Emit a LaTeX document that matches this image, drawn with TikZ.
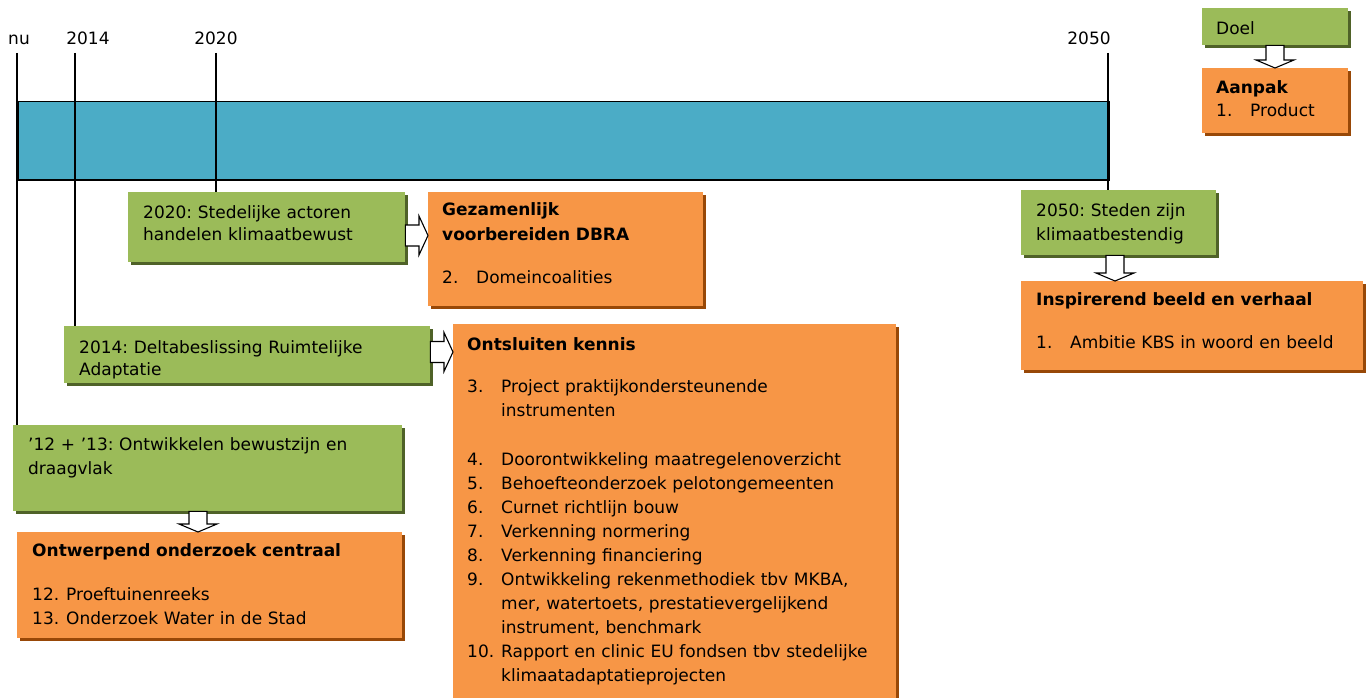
\documentclass[tikz,border=0pt]{standalone}
\usepackage{fontspec}
\setmainfont{DejaVu Sans}
\frenchspacing
\usetikzlibrary{calc,shadows}
\definecolor{kgreen}{HTML}{9BBB59}
\definecolor{kgreendark}{HTML}{4F6228}
\definecolor{korange}{HTML}{F79646}
\definecolor{korangedark}{HTML}{984807}
\definecolor{kblue}{HTML}{4BACC6}
\tikzstyle{tick} = [line width=1.6pt]
\tikzstyle{goal} = [rectangle, anchor=north west, inner sep=0pt, fill=kgreen,
  drop shadow={shadow xshift=3pt, shadow yshift=-3pt, fill=kgreendark, opacity=1}]
\tikzstyle{plan} = [rectangle, anchor=north west, inner sep=0pt, fill=korange,
  drop shadow={shadow xshift=3pt, shadow yshift=-3pt, fill=korangedark, opacity=1}]
\tikzstyle{txt} = [anchor=base west, inner sep=0pt, align=left, font=\fontsize{17}{24}\selectfont]
\tikzstyle{year} = [anchor=base, inner sep=0pt, font=\fontsize{17}{24}\selectfont]
\tikzstyle{blockarrow} = [draw=black, fill=white, line width=1.1pt, line join=miter]
\newcommand{\itm}[1]{\makebox[34pt][l]{#1}}
% right pointing block arrow: from, to, y
\newcommand{\harrow}[3]{%
  \draw[blockarrow] let \p1=(#1.east), \p2=(#2.west), \p3=(0,#3) in
    (\x1,\y3+10.5pt) -- (\x2-9pt,\y3+10.5pt) -- (\x2-9pt,\y3+19.5pt) -- (\x2,\y3)
    -- (\x2-9pt,\y3-19.5pt) -- (\x2-9pt,\y3-10.5pt) -- (\x1,\y3-10.5pt) -- cycle;}
% downward block arrow: from, to, x
\newcommand{\varrow}[3]{%
  \draw[blockarrow] let \p1=(#1.south), \p2=(#2.north), \p3=(#3,0) in
    (\x3-9pt,\y1) -- (\x3-9pt,\y2+8pt) -- (\x3-19pt,\y2+8pt) -- (\x3,\y2)
    -- (\x3+19pt,\y2+8pt) -- (\x3+9pt,\y2+8pt) -- (\x3+9pt,\y1) -- cycle;}

\begin{document}
\begin{tikzpicture}[x=1pt, y=-1pt]
	\useasboundingbox (0,0) rectangle (1370,698);
	\clip (0,0) rectangle (1370,698);

	\node[year] (lnu) at (19,45) {nu};
	\node[year] (l2014) at (88,45) {2014};
	\node[year] (l2020) at (216,45) {2020};
	\node[year] (l2050) at (1089,45) {2050};
	\coordinate (tnu) at (17,53);
	\coordinate (t2014) at (75,53);
	\coordinate (t2020) at (216,53);
	\coordinate (t2050) at (1108,53);

	\node[rectangle, anchor=north west, inner sep=0pt, fill=kblue, draw=black, line width=1.5pt,
	  minimum width=1091, minimum height=78] (bar) at (17,101) {};

	\node[goal, minimum width=277, minimum height=70] (g2020) at (128,192) {};
	\node[plan, minimum width=275, minimum height=114] (o2020) at (428,192) {};
	\node[goal, minimum width=366, minimum height=57] (g2014) at (64,326) {};
	\node[plan, minimum width=443, minimum height=390] (o2014) at (453,324) {};
	\node[goal, minimum width=389, minimum height=86] (g2012) at (13,425) {};
	\node[plan, minimum width=385, minimum height=106] (o2012) at (17,532) {};
	\node[goal, minimum width=195, minimum height=65] (g2050) at (1021,190) {};
	\node[plan, minimum width=342, minimum height=89] (o2050) at (1021,281) {};
	\node[goal, minimum width=146, minimum height=37] (doel) at (1202,8) {};
	\node[plan, minimum width=146, minimum height=65] (aanpak) at (1202,68) {};

	\draw[tick] (tnu) -- (tnu |- g2012.north);
	\draw[tick] (t2014) -- (t2014 |- g2014.north);
	\draw[tick] (t2020) -- (t2020 |- g2020.north);
	\draw[tick] (t2050) -- (t2050 |- g2050.north);

	\node[txt, text width=255pt] (tg2020) at (143,218.3) {2020: Stedelijke actoren\\[-1.6pt]
	  handelen klimaatbewust};
	\node[txt, text width=255pt] (to2020) at (442,215) {\textbf{Gezamenlijk}\\[1.7pt]
	  \textbf{voorbereiden DBRA}\\[18.6pt]
	  \itm{2.}Domeincoalities};
	\node[txt, text width=345pt] (tg2014) at (79,353.3) {2014: Deltabeslissing Ruimtelijke\\[-2.3pt]
	  Adaptatie};
	\node[txt, text width=425pt] (to2014) at (467,350) {\textbf{Ontsluiten kennis}\\[18.7pt]
	  \itm{3.}Project praktijkondersteunende\\
	  \itm{}instrumenten\\[25pt]
	  \itm{4.}Doorontwikkeling maatregelenoverzicht\\
	  \itm{5.}Behoefteonderzoek pelotongemeenten\\
	  \itm{6.}Curnet richtlijn bouw\\
	  \itm{7.}Verkenning normering\\
	  \itm{8.}Verkenning financiering\\
	  \itm{9.}Ontwikkeling rekenmethodiek tbv MKBA,\\
	  \itm{}mer, watertoets, prestatievergelijkend\\
	  \itm{}instrument, benchmark\\
	  \itm{10.}Rapport en clinic EU fondsen tbv stedelijke\\
	  \itm{}klimaatadaptatieprojecten};
	\node[txt, text width=368pt] (tg2012) at (28,450) {’12 + ’13: Ontwikkelen bewustzijn en\\
	  draagvlak};
	\node[txt, text width=365pt] (to2012) at (32,556.7) {\textbf{Ontwerpend onderzoek centraal}\\[19.3pt]
	  \itm{12.}Proeftuinenreeks\\
	  \itm{13.}Onderzoek Water in de Stad};
	\node[txt, text width=176pt] (tg2050) at (1036,216.7) {2050: Steden zijn\\[-0.7pt]
	  klimaatbestendig};
	\node[txt, text width=322pt] (to2050) at (1036,305) {\textbf{Inspirerend beeld en verhaal}\\[19.3pt]
	  \itm{1.}Ambitie KBS in woord en beeld};
	\node[txt, text width=128pt] (tdoel) at (1216,35) {Doel};
	\node[txt, text width=128pt] (taanpak) at (1216,93.3) {\textbf{Aanpak}\\[-0.6pt]
	  \itm{1.}Product};

	\harrow{g2020}{o2020}{235.5}
	\harrow{g2014}{o2014}{352}
	\varrow{g2012}{o2012}{198}
	\varrow{g2050}{o2050}{1115}
	\varrow{doel}{aanpak}{1275}
\end{tikzpicture}
\end{document}
